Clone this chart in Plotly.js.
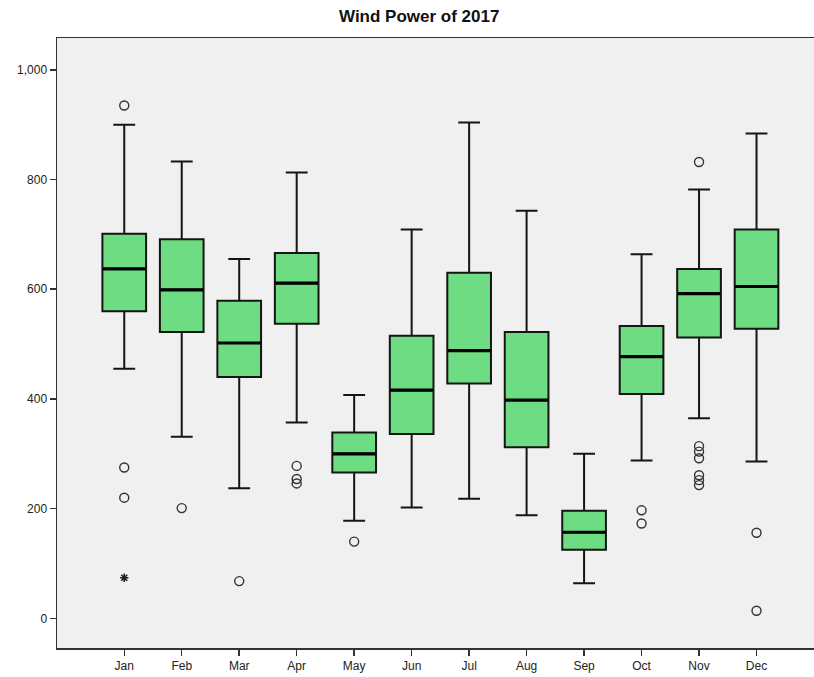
<!DOCTYPE html>
<html>
<head>
<meta charset="utf-8">
<script src="https://cdn.plot.ly/plotly-3.0.1.min.js"></script>
<style>html,body{margin:0;padding:0;background:#fff;}#chart{width:814px;height:677px;}</style>
</head>
<body>
<div id="chart"></div>
<script>
const months = ['Jan','Feb','Mar','Apr','May','Jun','Jul','Aug','Sep','Oct','Nov','Dec'];
const q1Vals     = [560, 522, 440, 537, 266, 336, 428, 312, 125, 409, 512, 528];
const medianVals = [637, 599, 502, 611, 300, 416, 488, 398, 157, 477, 592, 605];
const q3Vals     = [701, 691, 579, 666, 339, 515, 630, 522, 196, 533, 637, 709];
const lowerVals  = [455, 331, 237, 357, 178, 202, 218, 188,  64, 288, 365, 286];
const upperVals  = [900, 833, 655, 813, 407, 709, 904, 743, 300, 664, 782, 884];

const outlierMonths = ['Jan','Jan','Jan','Feb','Mar','Apr','Apr','Apr','May','Oct','Oct','Nov','Nov','Nov','Nov','Nov','Nov','Nov','Dec','Dec'];
const outlierVals   = [935, 275, 220, 201, 68, 278, 254, 246, 140, 197, 173, 832, 314, 304, 292, 261, 252, 243, 156, 14];
const extremeMonths = ['Jan'];
const extremeVals   = [74];

const boxTrace = {
  type: 'box',
  x: months,
  q1: q1Vals,
  median: medianVals,
  q3: q3Vals,
  lowerfence: lowerVals,
  upperfence: upperVals,
  boxpoints: false,
  width: 0.76,
  whiskerwidth: 0.5,
  fillcolor: '#6EDC82',
  line: {color: '#151515', width: 2},
  hoverinfo: 'none',
  showlegend: false
};

// thick median line: degenerate box collapsed onto the median
const medianTrace = {
  type: 'box',
  x: months,
  q1: medianVals,
  median: medianVals,
  q3: medianVals,
  lowerfence: medianVals,
  upperfence: medianVals,
  boxpoints: false,
  width: 0.74,
  whiskerwidth: 0,
  fillcolor: 'rgba(0,0,0,0)',
  line: {color: '#000000', width: 3.2},
  hoverinfo: 'none',
  showlegend: false
};

const outlierTrace = {
  type: 'scatter',
  mode: 'markers',
  x: outlierMonths,
  y: outlierVals,
  marker: {symbol: 'circle-open', size: 9, color: '#333333', line: {width: 1.4, color: '#333333'}},
  showlegend: false,
  hoverinfo: 'none'
};

const extremeTrace = {
  type: 'scatter',
  mode: 'markers',
  x: extremeMonths,
  y: extremeVals,
  marker: {symbol: 'asterisk-open', size: 7, color: '#222222', line: {width: 1.6, color: '#222222'}},
  showlegend: false,
  hoverinfo: 'none'
};

const layout = {
  width: 814,
  height: 677,
  margin: {l: 57, r: 0, t: 38, b: 29},
  paper_bgcolor: '#ffffff',
  plot_bgcolor: '#F0F0F0',
  boxmode: 'overlay',
  font: {family: 'Liberation Sans, Arial, sans-serif', size: 12, color: '#222222'},
  title: {
    text: '<b>Wind Power of 2017</b>',
    font: {family: 'Liberation Sans, Arial, sans-serif', size: 17, color: '#111111'},
    xref: 'container', x: 0.515, xanchor: 'center',
    yref: 'container', y: 0.976, yanchor: 'middle'
  },
  xaxis: {
    type: 'category',
    categoryorder: 'array',
    categoryarray: months,
    range: [-1.17, 12.0],
    showgrid: false,
    zeroline: false,
    showline: true,
    linecolor: '#333333',
    linewidth: 1.5,
    mirror: true,
    ticks: 'outside',
    ticklen: 6,
    tickwidth: 1.5,
    tickcolor: '#333333',
    tickfont: {size: 12, color: '#222222'}
  },
  yaxis: {
    range: [-54, 1058],
    tickvals: [0, 200, 400, 600, 800, 1000],
    tickformat: ',d',
    showgrid: false,
    zeroline: false,
    showline: true,
    linecolor: '#333333',
    linewidth: 1.5,
    mirror: true,
    ticks: 'outside',
    ticklen: 6,
    tickwidth: 1.5,
    tickcolor: '#333333',
    tickfont: {size: 12, color: '#222222'}
  }
};

Plotly.newPlot('chart', [boxTrace, medianTrace, outlierTrace, extremeTrace], layout, {staticPlot: true, displayModeBar: false});
</script>
</body>
</html>
